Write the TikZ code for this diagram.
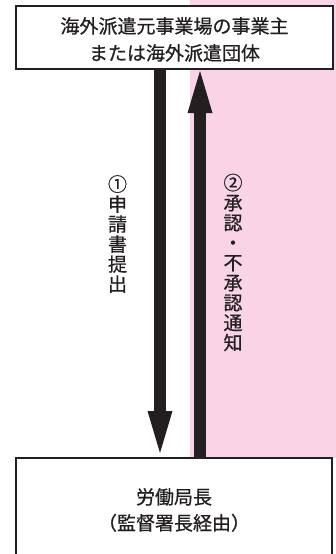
\documentclass[tikz,border=0pt]{standalone}
\usepackage{fontspec}
\newfontfamily\cjk[FakeBold=0.7]{Noto Sans CJK JP}
\usetikzlibrary{arrows.meta}
\definecolor{ink}{RGB}{35,31,32}
\definecolor{pinkbg}{RGB}{249,212,230}
\tikzset{
  box/.style={draw=ink, line width=2pt, fill=white, align=center, text=ink,
    font=\cjk\fontsize{19}{27}\selectfont, inner sep=0pt},
  arr/.style={draw=ink, line width=12pt,
    -{Triangle[length=42pt,width=25pt,line width=0pt]}},
  vlabel/.style={align=center, text=ink, inner sep=0pt,
    font=\cjk\fontsize{19}{20}\selectfont}
}
\begin{document}
\begin{tikzpicture}[x=1pt,y=-1pt]
\clip (0,0) rectangle (336,554);
\fill[pinkbg] (190,0) rectangle (336,458);
\node[box, minimum width=317pt, minimum height=63pt] (src) at (174.5,37.5) {};
\node[align=center, text=ink, inner sep=0pt, font=\cjk\fontsize{19}{27}\selectfont]
  (srct) at (174.5,39.5) {海外派遣元事業場の事業主\\または海外派遣団体};
\node[box, minimum width=316pt, minimum height=100pt] (dst) at (174,508) {};
\node[align=center, text=ink, inner sep=0pt, font=\cjk\fontsize{19}{26}\selectfont]
  (dstt) at (174,510) {労働局長\\（監督署長経由）};
\coordinate (dx) at (160,0);
\coordinate (ux) at (200,0);
\draw[arr, shorten >=4pt] (src.south -| dx) -- (dst.north -| dx);
\draw[arr, shorten >=1pt] (dst.north -| ux) -- (src.south -| ux);
\node[vlabel] (l1) at (117.5,234) {①\\申\\請\\書\\提\\出};
\node[vlabel] (l2) at (233,262.5) {②\\承\\認\\・\\不\\承\\認\\通\\知};
\end{tikzpicture}
\end{document}
